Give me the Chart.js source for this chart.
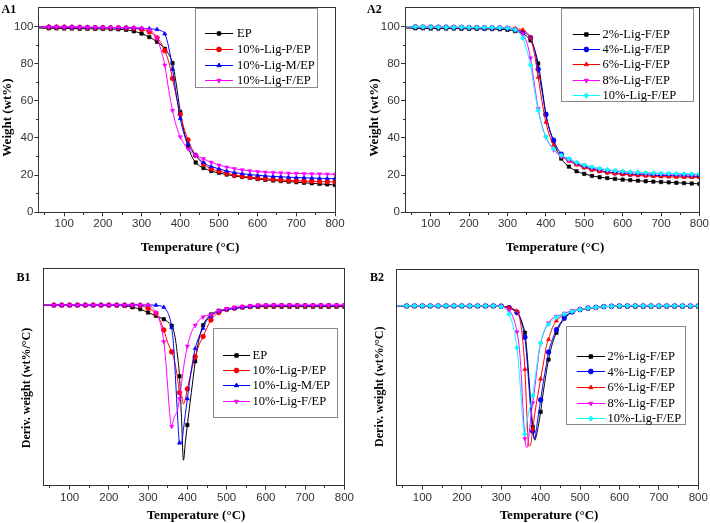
<!DOCTYPE html>
<html><head><meta charset="utf-8">
<script src="https://cdn.jsdelivr.net/npm/chart.js@4.4.1/dist/chart.umd.min.js"></script>
<style>
html,body{margin:0;padding:0;background:#fff;width:710px;height:523px;overflow:hidden}
canvas{position:absolute;display:block}
</style></head><body>
<canvas id="a1" width="355" height="262" style="left:0;top:0"></canvas>
<canvas id="a2" width="355" height="262" style="left:355px;top:0"></canvas>
<canvas id="b1" width="355" height="261" style="left:0;top:262px"></canvas>
<canvas id="b2" width="355" height="261" style="left:355px;top:262px"></canvas>
<script>
// ---------- data ----------
const xTickValues = [100,200,300,400,500,600,700,800];
const xMinorValues = [50,150,250,350,450,550,650,750];
const wTickValues = [0,20,40,60,80,100];
const wMinorValues = [10,30,50,70,90];

const labels1 = ['EP','10%-Lig-P/EP','10%-Lig-M/EP','10%-Lig-F/EP'];
const labels2 = ['2%-Lig-F/EP','4%-Lig-F/EP','6%-Lig-F/EP','8%-Lig-F/EP','10%-Lig-F/EP'];

const tgaTemps = [33,60,80,100,120,140,160,180,200,220,240,260,280,
  300,310,320,330,340,350,360,370,380,390,400,410,420,430,440,450,460,470,480,490,500,
  520,540,560,580,600,620,640,660,680,700,720,740,760,780,800];

// A1 weight (wt%)
const a1EP = [99.2,99.0,99.0,98.9,98.9,98.8,98.8,98.7,98.7,98.6,98.5,98.2,97.4,
  96.2,95.3,94.3,93.1,91.7,90.1,88.0,85.0,80.3,68.5,54.0,43.5,35.5,30.0,26.8,25.0,23.8,22.9,22.2,21.6,21.2,
  20.3,19.6,19.0,18.5,17.9,17.5,17.1,16.8,16.5,16.2,15.9,15.6,15.3,15.0,14.7];
const a1P = [99.8,99.7,99.7,99.6,99.6,99.5,99.5,99.4,99.4,99.3,99.3,99.2,98.9,
  98.4,97.9,97.1,95.8,93.9,91.2,87.0,81.0,72.0,62.0,52.7,45.0,39.0,34.2,30.6,28.0,26.0,24.5,23.4,22.7,22.2,
  21.0,20.1,19.4,18.9,18.4,18.0,17.7,17.4,17.2,17.0,16.8,16.7,16.5,16.4,16.3];
const a1M = [99.8,99.8,99.7,99.7,99.6,99.6,99.5,99.5,99.4,99.4,99.3,99.3,99.2,
  99.0,98.9,98.8,98.6,98.4,97.7,96.0,89.0,77.0,63.0,50.5,42.0,36.8,33.2,30.7,28.5,26.8,25.4,24.6,24.0,23.4,
  22.2,21.4,20.8,20.3,19.9,19.6,19.3,19.1,18.9,18.7,18.6,18.4,18.3,18.2,18.1];
const a1F = [99.9,99.8,99.8,99.7,99.7,99.6,99.6,99.6,99.5,99.5,99.5,99.4,99.3,
  99.1,98.8,98.2,96.8,93.8,87.5,79.2,66.0,54.8,46.3,40.6,36.8,34.1,32.2,30.7,29.7,28.8,27.8,26.9,26.1,25.4,
  24.3,23.5,22.8,22.3,21.9,21.6,21.4,21.2,21.0,20.9,20.8,20.7,20.6,20.5,20.4];

// A2 weight (wt%)
const a2F2 = [99.2,99.0,99.0,98.9,98.9,98.9,98.9,98.8,98.8,98.8,98.7,98.6,98.5,
  98.2,97.9,97.5,97.0,96.3,94.8,92.5,88.0,80.1,67.0,53.0,44.0,38.3,32.8,28.9,26.3,24.6,23.2,22.1,21.3,20.7,
  19.6,18.9,18.4,18.0,17.6,17.3,17.0,16.7,16.5,16.3,16.1,15.9,15.7,15.5,15.3];
const a2F4 = [99.8,99.8,99.7,99.7,99.6,99.6,99.5,99.5,99.4,99.4,99.3,99.3,99.2,
  99.0,98.7,98.3,97.8,97.0,96.0,94.0,88.0,77.0,65.0,52.5,44.5,38.8,34.5,31.3,29.6,28.3,27.2,26.2,25.3,24.5,
  23.3,22.4,21.7,21.2,20.8,20.5,20.3,20.1,19.9,19.8,19.7,19.6,19.5,19.4,19.4];
const a2F6 = [99.8,99.8,99.7,99.7,99.7,99.6,99.6,99.6,99.5,99.5,99.5,99.4,99.4,
  99.3,99.1,98.9,98.6,98.2,96.8,94.0,85.5,72.6,59.5,48.5,41.0,36.2,32.8,30.3,28.8,27.6,26.5,25.5,24.7,24.0,
  22.8,22.0,21.3,20.8,20.4,20.1,19.8,19.6,19.4,19.2,19.1,19.0,18.9,18.8,18.7];
const a2F8 = [99.8,99.8,99.7,99.7,99.7,99.6,99.6,99.6,99.5,99.5,99.5,99.4,99.4,
  99.2,98.9,98.5,97.6,96.0,91.5,83.0,69.0,55.8,46.5,40.5,36.5,33.6,31.6,30.0,29.0,28.1,27.3,26.6,25.9,25.3,
  24.2,23.4,22.7,22.2,21.8,21.5,21.2,21.0,20.8,20.7,20.6,20.5,20.4,20.3,20.3];
const a2F10 = [99.9,99.8,99.8,99.7,99.7,99.6,99.6,99.6,99.5,99.5,99.5,99.4,99.3,
  99.1,98.8,98.2,96.8,93.8,87.5,79.2,66.0,54.8,46.3,40.6,36.8,34.1,32.2,30.7,29.7,28.8,27.8,26.9,26.1,25.4,
  24.4,23.6,22.9,22.4,22.0,21.7,21.5,21.3,21.1,21.0,20.9,20.8,20.7,20.6,20.6];

const dtgTemps = [33,60,80,100,120,140,160,180,200,220,240,260,280,300,
  310,320,330,340,345,350,355,360,365,370,375,380,385,390,395,400,405,410,415,420,
  430,440,450,460,470,480,500,520,540,560,580,600,620,640,660,680,700,720,740,760,780,800];

// B1 derivative weight (wt%/°C)
const b1EP = [-0.005,-0.005,-0.005,-0.005,-0.005,-0.005,-0.005,-0.005,-0.005,-0.006,-0.012,-0.03,-0.055,-0.1,
  -0.122,-0.145,-0.165,-0.19,-0.205,-0.222,-0.245,-0.276,-0.34,-0.47,-0.68,-0.95,-1.5,-2.07,-1.82,-1.6,-1.38,-1.17,-0.96,-0.75,
  -0.45,-0.27,-0.18,-0.125,-0.095,-0.075,-0.057,-0.044,-0.031,-0.024,-0.022,-0.022,-0.022,-0.022,-0.022,-0.022,-0.022,-0.022,-0.022,-0.022,-0.022,-0.022];
const b1P = [0,0,0,0,0,0,0,0,0,0,0,0,-0.005,-0.044,
  -0.07,-0.11,-0.2,-0.333,-0.42,-0.5,-0.57,-0.625,-0.7,-0.82,-0.98,-1.17,-1.2,-1.32,-1.25,-1.12,-1.0,-0.88,-0.78,-0.69,
  -0.53,-0.42,-0.3,-0.2,-0.14,-0.1,-0.06,-0.04,-0.028,-0.02,-0.015,-0.01,-0.008,-0.008,-0.008,-0.008,-0.008,-0.008,-0.008,-0.008,-0.008,-0.008];
const b1M = [0,0,0,0,0,0,0,0,0,0,0,0,0,0,
  0,-0.003,-0.01,-0.03,-0.06,-0.1,-0.17,-0.3,-0.55,-1.0,-1.48,-1.84,-1.84,-1.66,-1.45,-1.25,-1.05,-0.87,-0.71,-0.58,
  -0.42,-0.31,-0.2,-0.15,-0.11,-0.085,-0.06,-0.045,-0.03,-0.02,-0.012,-0.005,-0.005,-0.005,-0.005,-0.005,-0.005,-0.005,-0.005,-0.005,-0.005,-0.005];
const b1F = [0,0,0,0,0,0,0,0,0,0,0,0,0,0,
  -0.03,-0.1,-0.22,-0.49,-0.75,-1.1,-1.45,-1.62,-1.52,-1.46,-1.4,-1.25,-1.05,-0.85,-0.68,-0.55,-0.45,-0.37,-0.31,-0.27,
  -0.2,-0.16,-0.14,-0.13,-0.1,-0.075,-0.05,-0.03,-0.02,-0.01,0,0,0,0,0,0,0,0,0,0,0,0];

// B2 derivative weight (wt%/°C)
const b2F2 = [-0.005,-0.005,-0.005,-0.005,-0.005,-0.005,-0.005,-0.005,-0.005,-0.005,-0.005,-0.005,-0.005,-0.008,
  -0.015,-0.03,-0.05,-0.085,-0.12,-0.18,-0.26,-0.36,-0.6,-0.95,-1.3,-1.62,-1.8,-1.72,-1.58,-1.42,-1.22,-1.04,-0.87,-0.72,
  -0.5,-0.36,-0.25,-0.17,-0.12,-0.085,-0.05,-0.035,-0.02,-0.012,-0.008,-0.008,-0.008,-0.008,-0.008,-0.008,-0.008,-0.008,-0.008,-0.008,-0.008,-0.008];
const b2F4 = [0,0,0,0,0,0,0,0,0,0,0,0,0,-0.003,
  -0.01,-0.025,-0.05,-0.09,-0.13,-0.2,-0.29,-0.42,-0.7,-1.05,-1.4,-1.68,-1.78,-1.62,-1.43,-1.26,-1.08,-0.92,-0.77,-0.62,
  -0.45,-0.32,-0.23,-0.16,-0.11,-0.08,-0.05,-0.03,-0.02,-0.01,-0.005,0,0,0,0,0,0,0,0,0,0,0];
const b2F6 = [0,0,0,0,0,0,0,0,0,0,0,0,0,-0.003,
  -0.01,-0.025,-0.04,-0.07,-0.13,-0.26,-0.48,-0.85,-1.45,-1.88,-1.85,-1.65,-1.45,-1.28,-1.13,-0.98,-0.83,-0.68,-0.53,-0.45,
  -0.29,-0.2,-0.15,-0.11,-0.085,-0.07,-0.045,-0.03,-0.02,-0.01,-0.005,0,0,0,0,0,0,0,0,0,0,0];
const b2F8 = [0,0,0,0,0,0,0,0,0,0,0,0,0,-0.005,
  -0.02,-0.06,-0.15,-0.35,-0.52,-0.85,-1.35,-1.78,-1.9,-1.75,-1.5,-1.3,-1.1,-0.88,-0.66,-0.5,-0.4,-0.33,-0.27,-0.23,
  -0.17,-0.14,-0.12,-0.1,-0.08,-0.065,-0.045,-0.03,-0.02,-0.01,-0.005,0,0,0,0,0,0,0,0,0,0,0];
const b2F10 = [0,0,0,0,0,0,0,0,0,0,0,0,0,-0.01,
  -0.04,-0.11,-0.27,-0.56,-0.85,-1.2,-1.55,-1.72,-1.55,-1.42,-1.33,-1.2,-1.0,-0.82,-0.62,-0.5,-0.4,-0.32,-0.28,-0.25,
  -0.19,-0.15,-0.13,-0.11,-0.09,-0.075,-0.05,-0.03,-0.02,-0.01,-0.005,0,0,0,0,0,0,0,0,0,0,0];

// ---------- styling ----------
const colors1 = ['#000000','#ff0000','#0000ff','#ff00ff'];
const markers1 = ['rect','circle','triangle','triangleDown'];
const colors2 = ['#000000','#0000ff','#ff0000','#ff00ff','#00ffff'];
const markers2 = ['rect','circle','triangle','triangleDown','rectRot'];
const AX = '#333333';

function makeDataset(label, temps, values, color, marker, i) {
  return {
    label: label,
    data: temps.map((t, k) => ({x: t, y: values[k]})),
    borderColor: color, backgroundColor: color, borderWidth: 1,
    pointStyle: marker === 'triangleDown' ? 'triangle' : marker,
    pointRotation: marker === 'triangleDown' ? 180 : 0,
    pointRadius: ctx => { const t = temps[ctx.dataIndex]; return (t >= 60 && t % 20 === 0) ? 2.4 : 0; },
    pointBorderWidth: 0.6, pointBorderColor: color, pointBackgroundColor: color,
    cubicInterpolationMode: 'monotone', order: -i
  };
}

function drawMarker(ctx, style, rot, r, x, y) {
  if (Chart.helpers && Chart.helpers.drawPoint) {
    Chart.helpers.drawPoint(ctx, {pointStyle: style, rotation: rot, radius: r, borderWidth: 0.6}, x, y);
    return;
  }
  ctx.beginPath(); ctx.arc(x, y, r, 0, Math.PI * 2); ctx.fill();
}

const al = p => Math.round(p - 0.5) + 0.5;

const decorPlugin = {
  id: 'decor',
  afterDraw(chart, args, o) {
    const ctx = chart.ctx, a = chart.chartArea, sc = chart.scales;
    ctx.save();
    ctx.strokeStyle = AX; ctx.lineWidth = 1;
    const L = al(a.left), R = al(a.right), T = al(a.top), B = al(a.bottom);
    ctx.strokeRect(L, T, R - L, B - T);
    ctx.beginPath();
    xMinorValues.forEach(v => { const px = al(sc.x.getPixelForValue(v)); ctx.moveTo(px, B); ctx.lineTo(px, B + 2.5); });
    (o.yMinor || []).forEach(v => { const py = al(sc.y.getPixelForValue(v)); ctx.moveTo(L, py); ctx.lineTo(L - 2.5, py); });
    ctx.stroke();
    // legend box
    const G = o.legend;
    ctx.fillStyle = '#ffffff'; ctx.fillRect(G.x, G.y, G.w, G.h);
    ctx.strokeStyle = '#8a8a8a'; ctx.strokeRect(al(G.x), al(G.y), Math.round(G.w), Math.round(G.h));
    ctx.font = '12.5px "Liberation Serif", "Times New Roman", serif';
    ctx.textBaseline = 'middle'; ctx.textAlign = 'left';
    chart.data.datasets.forEach((ds, i) => {
      const y = G.rows[i];
      ctx.strokeStyle = ds.borderColor; ctx.lineWidth = 1;
      ctx.beginPath(); ctx.moveTo(G.x0, al(y)); ctx.lineTo(G.x1, al(y)); ctx.stroke();
      ctx.fillStyle = ds.borderColor;
      drawMarker(ctx, ds.pointStyle, ds.pointRotation, 2.4, (G.x0 + G.x1) / 2, al(y));
      ctx.fillStyle = '#000000';
      ctx.fillText(ds.label, G.tx, y + 0.5);
    });
    // titles
    ctx.fillStyle = '#000000';
    ctx.textAlign = 'center'; ctx.textBaseline = 'middle';
    ctx.font = 'bold 13px "Liberation Serif", "Times New Roman", serif';
    ctx.fillText(o.xTitle.text, o.xTitle.x, o.xTitle.y);
    ctx.save();
    ctx.font = 'bold ' + o.yTitle.size + 'px "Liberation Serif", "Times New Roman", serif';
    ctx.translate(o.yTitle.x, o.yTitle.y); ctx.rotate(-Math.PI / 2);
    ctx.fillText(o.yTitle.text, 0, 0);
    ctx.restore();
    ctx.textAlign = 'left';
    ctx.font = 'bold 12px "Liberation Serif", "Times New Roman", serif';
    ctx.fillText(o.label.text, o.label.x, o.label.y);
    ctx.restore();
  }
};

function makeChart(id, box, area, datasets, yOpt, deco) {
  const padTop = area.top - box.top, padRight = (box.left + box.w) - area.right;
  const yW = area.left - box.left, xH = (box.top + box.h) - area.bottom;
  const tickFont = {family: '"Liberation Sans", Arial, sans-serif', size: 11.5};
  new Chart(document.getElementById(id), {
    type: 'line',
    data: {datasets: datasets},
    options: {
      responsive: false, animation: false, events: [],
      layout: {padding: {top: padTop, right: padRight, left: 0, bottom: 0}},
      scales: {
        x: {
          type: 'linear', min: 33, max: 800,
          afterBuildTicks: s => { s.ticks = xTickValues.map(v => ({value: v})); },
          afterFit: s => { s.height = xH; },
          ticks: {font: tickFont, color: AX, padding: 1, maxRotation: 0, autoSkip: false},
          grid: {display: true, drawOnChartArea: false, drawTicks: true, tickLength: 4, tickColor: AX, color: AX},
          border: {display: false}
        },
        y: Object.assign({
          afterFit: s => { s.width = yW; },
          border: {display: false}
        }, yOpt(tickFont))
      },
      plugins: {legend: {display: false}, tooltip: {enabled: false}, decor: deco}
    },
    plugins: [decorPlugin]
  });
}

const yWeight = f => ({
  min: 0, max: 110,
  afterBuildTicks: s => { s.ticks = wTickValues.map(v => ({value: v})); },
  ticks: {font: f, color: AX, padding: 1},
  grid: {display: true, drawOnChartArea: false, drawTicks: true, tickLength: 4, tickColor: AX, color: AX}
});
const yDeriv = f => ({
  min: -2.41, max: 0.49,
  ticks: {display: false},
  grid: {display: false}
});

const ds = (labels, temps, series, colors, markers) =>
  series.map((v, i) => makeDataset(labels[i], temps, v, colors[i], markers[i], i));

makeChart('a1', {left: 0, top: 0, w: 355, h: 262}, {left: 38.3, top: 1, right: 335, bottom: 212.3},
  ds(labels1, tgaTemps, [a1EP, a1P, a1M, a1F], colors1, markers1), yWeight,
  {yMinor: wMinorValues,
   legend: {x: 195, y: 8.3, w: 122, h: 79, rows: [33.3, 49.5, 65, 80.3], x0: 205, x1: 233, tx: 237},
   xTitle: {text: 'Temperature (°C)', x: 190, y: 247.5},
   yTitle: {text: 'Weight (wt%)', x: 8, y: 117.5, size: 13},
   label: {text: 'A1', x: 1.5, y: 9.5}});

makeChart('a2', {left: 355, top: 0, w: 355, h: 262}, {left: 405, top: 1, right: 701.7, bottom: 212.3},
  ds(labels2, tgaTemps, [a2F2, a2F4, a2F6, a2F8, a2F10], colors2, markers2), yWeight,
  {yMinor: wMinorValues,
   legend: {x: 206.7, y: 8.3, w: 131.6, h: 93.4, rows: [34, 49.3, 64.5, 80, 95.2], x0: 217.7, x1: 245, tx: 247.5},
   xTitle: {text: 'Temperature (°C)', x: 200, y: 247.5},
   yTitle: {text: 'Weight (wt%)', x: 20, y: 117.5, size: 13},
   label: {text: 'A2', x: 12, y: 9.5}});

makeChart('b1', {left: 0, top: 262, w: 355, h: 261}, {left: 43.3, top: 268.3, right: 345.7, bottom: 485.7},
  ds(labels1, dtgTemps, [b1EP, b1P, b1M, b1F], colors1, markers1), yDeriv,
  {legend: {x: 213, y: 66.3, w: 124, h: 89, rows: [93, 108.2, 123.6, 139.2], x0: 223, x1: 250, tx: 252.5},
   xTitle: {text: 'Temperature (°C)', x: 196, y: 253.7},
   yTitle: {text: 'Deriv. weight (wt%/°C)', x: 27, y: 126, size: 12},
   label: {text: 'B1', x: 16.5, y: 15.5}});

makeChart('b2', {left: 355, top: 262, w: 355, h: 261}, {left: 396, top: 269.3, right: 698.3, bottom: 485.7},
  ds(labels2, dtgTemps, [b2F2, b2F4, b2F6, b2F8, b2F10], colors2, markers2), yDeriv,
  {legend: {x: 211, y: 64.7, w: 119, h: 98.3, rows: [94.7, 109.9, 125.5, 141.1, 156.5], x0: 221.7, x1: 250, tx: 252.5},
   xTitle: {text: 'Temperature (°C)', x: 194, y: 253.7},
   yTitle: {text: 'Deriv. weight (wt%/°C)', x: 25, y: 124.7, size: 12},
   label: {text: 'B2', x: 15, y: 15.5}});
</script>
</body></html>
